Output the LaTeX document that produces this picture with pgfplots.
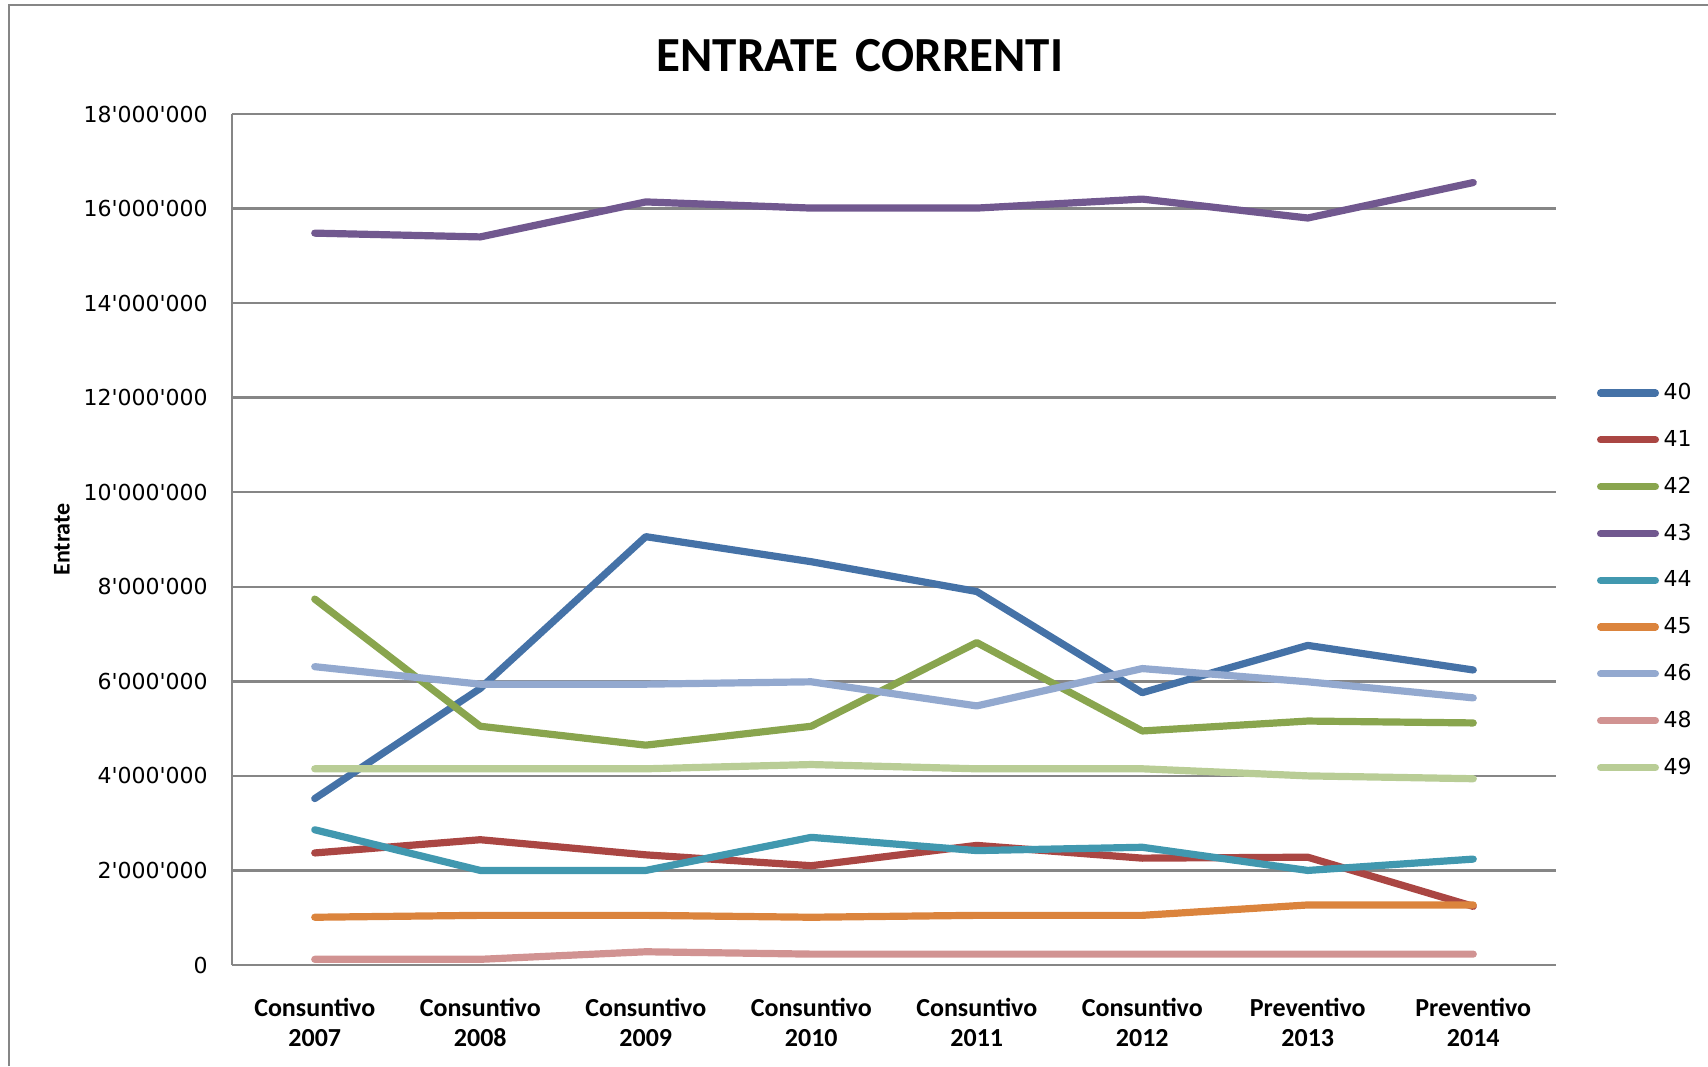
\documentclass[border=0pt]{standalone}
\usepackage{pgfplots}
\pgfplotsset{compat=1.18}
\usepackage{fontspec}
\setmainfont{Carlito}
\newfontfamily\tickfont{DejaVu Sans}
\definecolor{c40}{HTML}{4572A7}
\definecolor{c41}{HTML}{AA4643}
\definecolor{c42}{HTML}{89A54E}
\definecolor{c43}{HTML}{71588F}
\definecolor{c44}{HTML}{4198AF}
\definecolor{c45}{HTML}{DB843D}
\definecolor{c46}{HTML}{93A9CF}
\definecolor{c48}{HTML}{D19392}
\definecolor{c49}{HTML}{B9CD96}
\definecolor{gridgray}{HTML}{868686}
\begin{document}
\begin{tikzpicture}
\path[use as bounding box] (0,0) rectangle (854pt,533pt);
\draw[color=gridgray, line width=1pt] (4.4pt,0) -- (4.4pt,530.3pt) -- (854pt,530.3pt);
\begin{axis}[
  at={(116pt,50.5pt)}, anchor=south west,
  scale only axis, width=662pt, height=425.5pt,
  xmin=-0.5, xmax=7.5, ymin=0, ymax=18000000,
  axis lines*=left,
  axis line style={color=gridgray, line width=1.2pt},
  ymajorgrids, grid style={color=gridgray, line width=1.2pt},
  major tick length=0pt,
  scaled y ticks=false,
  xtick={0,1,2,3,4,5,6,7},
  xticklabels={{Consuntivo\\2007},{Consuntivo\\2008},{Consuntivo\\2009},{Consuntivo\\2010},{Consuntivo\\2011},{Consuntivo\\2012},{Preventivo\\2013},{Preventivo\\2014}},
  xticklabel style={font=\bfseries\fontsize{13}{15.25}\selectfont, align=center, anchor=north, inner sep=0pt, yshift=-16.4pt},
  ytick={0,2000000,4000000,6000000,8000000,10000000,12000000,14000000,16000000,18000000},
  yticklabels={0,2'000'000,4'000'000,6'000'000,8'000'000,10'000'000,12'000'000,14'000'000,16'000'000,18'000'000},
  yticklabel style={font=\tickfont\fontsize{11}{13}\selectfont, anchor=east, inner sep=0pt, xshift=-12pt},
  title={ENTRATE\hspace{3pt} CORRENTI},
  title style={font=\bfseries\fontsize{24.5}{28}\selectfont, at={(axis description cs:0.4743,1.055)}, anchor=center, inner sep=0pt},
  ylabel={Entrate},
  ylabel style={font=\bfseries\fontsize{12}{14}\selectfont, at={(axis description cs:-0.1284,0.5)}, anchor=center, inner sep=0pt},
  every axis plot/.append style={line width=3.6pt, line cap=round, line join=round, mark=none},
  legend image code/.code={\draw[#1, line cap=round] (0pt,0pt) -- (27.4pt,0pt);},
  legend style={draw=none, fill=none, at={(axis description cs:1,0.452)}, anchor=west, xshift=20.3pt,
    inner sep=0pt, font=\tickfont\fontsize{11}{13}\selectfont, row sep=13.8pt, column sep=2.3pt,
    nodes={inner sep=0pt}},
  legend cell align=left,
]
\addplot[c40] coordinates {(0,3520000)(1,5850000)(2,9060000)(3,8530000)(4,7900000)(5,5760000)(6,6760000)(7,6240000)};
\addlegendentry{40}
\addplot[c41] coordinates {(0,2370000)(1,2650000)(2,2330000)(3,2100000)(4,2530000)(5,2260000)(6,2280000)(7,1240000)};
\addlegendentry{41}
\addplot[c42] coordinates {(0,7740000)(1,5050000)(2,4650000)(3,5050000)(4,6820000)(5,4950000)(6,5160000)(7,5120000)};
\addlegendentry{42}
\addplot[c43] coordinates {(0,15480000)(1,15400000)(2,16140000)(3,16010000)(4,16010000)(5,16200000)(6,15800000)(7,16550000)};
\addlegendentry{43}
\addplot[c44] coordinates {(0,2860000)(1,2000000)(2,2000000)(3,2700000)(4,2420000)(5,2490000)(6,2000000)(7,2240000)};
\addlegendentry{44}
\addplot[c45] coordinates {(0,1010000)(1,1050000)(2,1050000)(3,1010000)(4,1050000)(5,1050000)(6,1270000)(7,1270000)};
\addlegendentry{45}
\addplot[c46] coordinates {(0,6310000)(1,5940000)(2,5940000)(3,5990000)(4,5480000)(5,6270000)(6,5990000)(7,5650000)};
\addlegendentry{46}
\addplot[c48] coordinates {(0,120000)(1,120000)(2,280000)(3,230000)(4,230000)(5,230000)(6,230000)(7,230000)};
\addlegendentry{48}
\addplot[c49] coordinates {(0,4150000)(1,4150000)(2,4150000)(3,4240000)(4,4150000)(5,4150000)(6,4000000)(7,3940000)};
\addlegendentry{49}
\end{axis}
\end{tikzpicture}
\end{document}
